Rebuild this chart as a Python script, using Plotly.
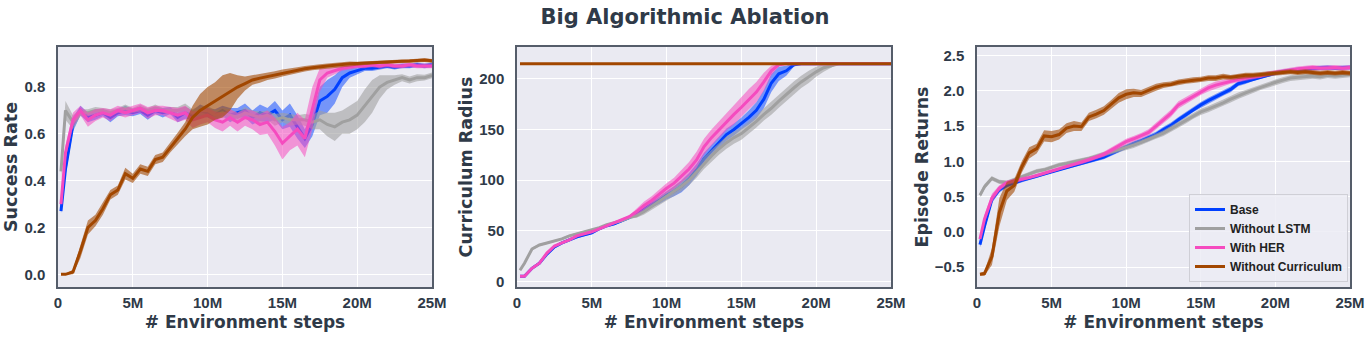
import plotly.graph_objects as go
from plotly.subplots import make_subplots

# environment steps, in millions
STEPS_M = [0.2, 0.5, 1.0, 1.5, 2.0, 2.5, 3.0, 3.5, 4.0, 4.5,
           5.0, 5.5, 6.0, 6.5, 7.0, 7.5, 8.0, 8.5, 9.0, 9.5,
           10.0, 10.5, 11.0, 11.5, 12.0, 12.5, 13.0, 13.5, 14.0, 14.5,
           15.0, 15.5, 16.0, 16.5, 17.0, 17.5, 18.0, 18.5, 19.0, 19.5,
           20.0, 20.5, 21.0, 21.5, 22.0, 22.5, 23.0, 23.5, 24.0, 24.5,
           25.0]

SERIES = ["Base", "Without LSTM", "With HER", "Without Curriculum"]

# --- success rate (mean, spread) ---
SR_BASE = [0.27, 0.45, 0.64, 0.70, 0.67, 0.68, 0.69, 0.67, 0.69, 0.70,
           0.69, 0.70, 0.68, 0.70, 0.69, 0.70, 0.67, 0.69, 0.68, 0.70,
           0.69, 0.68, 0.70, 0.68, 0.69, 0.70, 0.67, 0.69, 0.68, 0.70,
           0.66, 0.68, 0.63, 0.58, 0.64, 0.74, 0.76, 0.79, 0.84, 0.86,
           0.87, 0.88, 0.88, 0.885, 0.89, 0.885, 0.89, 0.89, 0.895, 0.89,
           0.895]
SR_BASE_SD = [0.01, 0.03, 0.03, 0.02, 0.02, 0.02, 0.015, 0.02, 0.015, 0.02,
              0.015, 0.015, 0.02, 0.015, 0.02, 0.015, 0.02, 0.025, 0.02, 0.025,
              0.02, 0.025, 0.02, 0.03, 0.02, 0.03, 0.03, 0.035, 0.03, 0.04,
              0.04, 0.05, 0.05, 0.04, 0.05, 0.06, 0.07, 0.06, 0.04, 0.02,
              0.015, 0.012, 0.012, 0.01, 0.01, 0.01, 0.01, 0.01, 0.01, 0.01,
              0.01]
SR_LSTM = [0.44, 0.70, 0.65, 0.69, 0.69, 0.70, 0.70, 0.69, 0.70, 0.71,
           0.70, 0.71, 0.70, 0.71, 0.70, 0.70, 0.70, 0.71, 0.69, 0.70,
           0.70, 0.68, 0.69, 0.68, 0.67, 0.69, 0.68, 0.67, 0.68, 0.66,
           0.67, 0.66, 0.66, 0.66, 0.65, 0.66, 0.64, 0.63, 0.65, 0.66,
           0.68, 0.72, 0.76, 0.80, 0.82, 0.83, 0.84, 0.83, 0.84, 0.84,
           0.85]
SR_LSTM_SD = [0.03, 0.04, 0.03, 0.015, 0.015, 0.015, 0.01, 0.015, 0.01, 0.015,
              0.01, 0.015, 0.01, 0.015, 0.01, 0.015, 0.015, 0.02, 0.015, 0.02,
              0.02, 0.02, 0.02, 0.025, 0.02, 0.025, 0.02, 0.025, 0.02, 0.025,
              0.02, 0.025, 0.02, 0.025, 0.03, 0.04, 0.05, 0.06, 0.05, 0.06,
              0.06, 0.07, 0.07, 0.05, 0.03, 0.02, 0.015, 0.015, 0.015, 0.012,
              0.012]
SR_HER = [0.30, 0.52, 0.66, 0.70, 0.66, 0.68, 0.69, 0.68, 0.70, 0.69,
          0.70, 0.71, 0.69, 0.70, 0.70, 0.69, 0.68, 0.69, 0.66, 0.67,
          0.68, 0.66, 0.65, 0.67, 0.65, 0.67, 0.66, 0.64, 0.65, 0.61,
          0.56, 0.59, 0.62, 0.58, 0.71, 0.83, 0.86, 0.87, 0.88, 0.885,
          0.89, 0.89, 0.895, 0.89, 0.895, 0.89, 0.89, 0.895, 0.89, 0.89,
          0.89]
SR_HER_SD = [0.01, 0.03, 0.03, 0.02, 0.03, 0.025, 0.02, 0.025, 0.02, 0.02,
             0.02, 0.02, 0.025, 0.02, 0.02, 0.025, 0.03, 0.03, 0.035, 0.03,
             0.03, 0.035, 0.04, 0.035, 0.04, 0.035, 0.04, 0.045, 0.05, 0.06,
             0.07, 0.06, 0.07, 0.08, 0.09, 0.05, 0.02, 0.015, 0.01, 0.01,
             0.01, 0.01, 0.01, 0.01, 0.01, 0.01, 0.01, 0.01, 0.01, 0.01,
             0.01]
SR_CURR = [0.0, 0.0, 0.01, 0.10, 0.20, 0.23, 0.28, 0.34, 0.36, 0.43,
           0.41, 0.45, 0.44, 0.49, 0.50, 0.54, 0.58, 0.62, 0.67, 0.70,
           0.72, 0.74, 0.76, 0.78, 0.80, 0.815, 0.83, 0.838, 0.845, 0.852,
           0.86, 0.866, 0.872, 0.878, 0.882, 0.887, 0.89, 0.893, 0.897, 0.899,
           0.90, 0.902, 0.905, 0.906, 0.908, 0.909, 0.91, 0.911, 0.913, 0.915,
           0.912]
SR_CURR_SD = [0.002, 0.003, 0.01, 0.03, 0.03, 0.025, 0.025, 0.02, 0.02, 0.025,
              0.02, 0.02, 0.02, 0.02, 0.02, 0.02, 0.025, 0.03, 0.05, 0.07,
              0.08, 0.08, 0.09, 0.08, 0.05, 0.03, 0.02, 0.02, 0.015, 0.015,
              0.015, 0.012, 0.012, 0.012, 0.01, 0.01, 0.01, 0.01, 0.01, 0.01,
              0.008, 0.008, 0.008, 0.008, 0.008, 0.008, 0.008, 0.008, 0.008, 0.008,
              0.008]

# --- curriculum radius ---
CR_BASE = [5, 5, 13, 18, 27, 34, 38, 41, 44, 46,
           48, 52, 55, 57, 60, 63, 67, 71, 76, 80,
           85, 89, 94, 101, 110, 121, 129, 137, 145, 150,
           156, 162, 169, 180, 196, 205, 208, 214, 215, 215,
           215, 215, 215, 215, 215, 215, 215, 215, 215, 215,
           215]
CR_BASE_SD = [0.5, 0.5, 1.0, 1.5, 1.5, 1.5, 1.5, 1.5, 1.5, 1.5,
              1.5, 1.5, 1.5, 1.5, 1.5, 1.5, 2.0, 2.5, 3.0, 3.5,
              4.0, 5.0, 6.0, 6.0, 6.0, 6.0, 6.0, 6.0, 6.0, 6.0,
              6.0, 7.0, 8.0, 9.0, 9.0, 7.0, 5.0, 2.0, 0.0, 0.0,
              0.0, 0.0, 0.0, 0.0, 0.0, 0.0, 0.0, 0.0, 0.0, 0.0,
              0.0]
CR_LSTM = [11, 18, 32, 36, 38, 40, 42, 45, 47, 49,
           51, 53, 56, 58, 60, 63, 65, 69, 74, 79,
           84, 89, 94, 100, 108, 117, 124, 131, 137, 142,
           146, 152, 158, 165, 171, 178, 185, 191, 197, 202,
           207, 211, 213, 215, 215, 215, 215, 215, 215, 215,
           215]
CR_LSTM_SD = [1.0, 1.5, 1.5, 1.0, 1.0, 1.0, 1.0, 1.0, 1.0, 1.0,
              1.0, 1.0, 1.0, 1.0, 1.0, 1.0, 2.0, 3.0, 3.5, 4.0,
              4.0, 4.5, 5.0, 5.0, 5.5, 6.0, 6.0, 6.0, 6.0, 6.0,
              6.0, 6.0, 6.0, 6.0, 6.5, 6.5, 6.5, 6.5, 6.0, 6.0,
              5.0, 4.0, 2.0, 0.0, 0.0, 0.0, 0.0, 0.0, 0.0, 0.0,
              0.0]
CR_HER = [5, 5, 13, 18, 28, 35, 38, 41, 45, 47,
          49, 52, 55, 58, 61, 64, 69, 75, 80, 86,
          92, 97, 104, 111, 120, 133, 142, 150, 158, 165,
          172, 180, 187, 197, 208, 214, 215, 215, 215, 215,
          215, 215, 215, 215, 215, 215, 215, 215, 215, 215,
          215]
CR_HER_SD = [0.5, 0.5, 1.0, 1.0, 1.0, 1.0, 1.0, 1.0, 1.0, 1.0,
             1.0, 1.0, 1.0, 1.0, 1.0, 1.0, 3.0, 4.0, 4.0, 4.5,
             5.0, 5.5, 6.0, 7.0, 8.0, 8.0, 8.0, 8.0, 9.0, 10.0,
             10.0, 10.0, 10.0, 9.0, 5.0, 1.5, 0.0, 0.0, 0.0, 0.0,
             0.0, 0.0, 0.0, 0.0, 0.0, 0.0, 0.0, 0.0, 0.0, 0.0,
             0.0]
CR_CURR = [215, 215, 215, 215, 215, 215, 215, 215, 215, 215,
           215, 215, 215, 215, 215, 215, 215, 215, 215, 215,
           215, 215, 215, 215, 215, 215, 215, 215, 215, 215,
           215, 215, 215, 215, 215, 215, 215, 215, 215, 215,
           215, 215, 215, 215, 215, 215, 215, 215, 215, 215,
           215]
CR_CURR_SD = [0.0] * 51

# --- episode returns ---
ER_BASE = [-0.18, 0.08, 0.46, 0.60, 0.66, 0.70, 0.73, 0.76, 0.79, 0.82,
           0.86, 0.89, 0.92, 0.95, 0.97, 1.00, 1.03, 1.06, 1.11, 1.16,
           1.21, 1.25, 1.29, 1.33, 1.38, 1.45, 1.51, 1.59, 1.66, 1.74,
           1.80, 1.86, 1.91, 1.97, 2.02, 2.10, 2.13, 2.17, 2.20, 2.23,
           2.25, 2.27, 2.29, 2.30, 2.31, 2.32, 2.32, 2.33, 2.32, 2.33,
           2.33]
ER_BASE_SD = [0.04, 0.05, 0.05, 0.04, 0.03, 0.03, 0.025, 0.025, 0.025, 0.025,
              0.025, 0.025, 0.025, 0.025, 0.025, 0.025, 0.03, 0.03, 0.035, 0.035,
              0.035, 0.035, 0.035, 0.04, 0.04, 0.04, 0.04, 0.04, 0.04, 0.04,
              0.04, 0.04, 0.04, 0.04, 0.04, 0.035, 0.035, 0.03, 0.03, 0.03,
              0.03, 0.03, 0.03, 0.03, 0.03, 0.03, 0.03, 0.03, 0.03, 0.03,
              0.03]
ER_LSTM = [0.52, 0.64, 0.76, 0.71, 0.70, 0.74, 0.78, 0.83, 0.86, 0.88,
           0.92, 0.95, 0.97, 0.99, 1.02, 1.04, 1.07, 1.10, 1.13, 1.16,
           1.20, 1.23, 1.27, 1.31, 1.36, 1.40, 1.46, 1.52, 1.58, 1.65,
           1.70, 1.74, 1.78, 1.83, 1.88, 1.93, 1.97, 2.01, 2.05, 2.09,
           2.12, 2.15, 2.18, 2.19, 2.20, 2.21, 2.20, 2.22, 2.21, 2.22,
           2.23]
ER_LSTM_SD = [0.03, 0.04, 0.03, 0.03, 0.03, 0.03, 0.03, 0.03, 0.03, 0.03,
              0.03, 0.03, 0.03, 0.03, 0.03, 0.03, 0.035, 0.035, 0.04, 0.04,
              0.04, 0.04, 0.04, 0.04, 0.04, 0.04, 0.045, 0.045, 0.045, 0.045,
              0.045, 0.045, 0.045, 0.045, 0.045, 0.045, 0.04, 0.04, 0.04, 0.04,
              0.04, 0.04, 0.04, 0.04, 0.04, 0.04, 0.04, 0.04, 0.04, 0.04,
              0.04]
ER_HER = [-0.10, 0.18, 0.48, 0.62, 0.70, 0.72, 0.74, 0.77, 0.80, 0.83,
          0.86, 0.90, 0.93, 0.96, 0.99, 1.02, 1.06, 1.10, 1.16, 1.22,
          1.28, 1.32, 1.36, 1.41, 1.50, 1.59, 1.68, 1.80, 1.86, 1.93,
          1.99, 2.04, 2.08, 2.11, 2.14, 2.16, 2.18, 2.19, 2.21, 2.24,
          2.26, 2.28, 2.30, 2.31, 2.32, 2.33, 2.32, 2.33, 2.33, 2.32,
          2.33]
ER_HER_SD = [0.03, 0.06, 0.06, 0.04, 0.03, 0.03, 0.025, 0.025, 0.025, 0.025,
             0.025, 0.025, 0.025, 0.025, 0.03, 0.03, 0.03, 0.035, 0.035, 0.04,
             0.04, 0.04, 0.04, 0.045, 0.05, 0.05, 0.05, 0.05, 0.05, 0.05,
             0.05, 0.05, 0.05, 0.045, 0.04, 0.04, 0.035, 0.035, 0.035, 0.035,
             0.035, 0.035, 0.035, 0.035, 0.035, 0.035, 0.035, 0.035, 0.035, 0.035,
             0.035]
ER_CURR = [-0.60, -0.59, -0.35, 0.28, 0.58, 0.66, 0.92, 1.12, 1.18, 1.36,
           1.35, 1.38, 1.47, 1.50, 1.49, 1.63, 1.67, 1.72, 1.81, 1.90,
           1.95, 1.97, 1.96, 2.01, 2.05, 2.08, 2.09, 2.12, 2.14, 2.15,
           2.16, 2.18, 2.18, 2.20, 2.19, 2.21, 2.22, 2.22, 2.23, 2.24,
           2.25, 2.26, 2.27, 2.26, 2.27, 2.26, 2.25, 2.26, 2.25, 2.26,
           2.25]
ER_CURR_SD = [0.02, 0.03, 0.12, 0.20, 0.13, 0.09, 0.08, 0.08, 0.07, 0.08,
              0.08, 0.07, 0.07, 0.07, 0.06, 0.06, 0.06, 0.06, 0.06, 0.07,
              0.07, 0.06, 0.05, 0.05, 0.05, 0.04, 0.04, 0.04, 0.04, 0.04,
              0.04, 0.04, 0.04, 0.04, 0.035, 0.035, 0.035, 0.035, 0.035, 0.035,
              0.035, 0.035, 0.035, 0.035, 0.035, 0.035, 0.035, 0.035, 0.035, 0.035,
              0.035]

X_TICKS = [0, 5, 10, 15, 20, 25]
X_TICK_TEXT = ["0", "5M", "10M", "15M", "20M", "25M"]

COLORS = ["#0040ff", "#a0a0a0", "#f54bbf", "#a24700"]
BAND_ALPHA = [0.5, 0.6, 0.55, 0.6]

TEXT = "#2f3a48"
TITLE_FONT = dict(family="DejaVu Sans", size=17, color=TEXT, weight="bold")
TICK_FONT = dict(family="Liberation Sans, Arial", size=15, color=TEXT, weight="bold")


def rgba(hex_color, alpha):
    h = hex_color.lstrip("#")
    r, g, b = int(h[0:2], 16), int(h[2:4], 16), int(h[4:6], 16)
    return f"rgba({r},{g},{b},{alpha})"


def add_series(fig, col, mean, sd, idx, legend):
    hi = [m + s for m, s in zip(mean, sd)]
    lo = [m - s for m, s in zip(mean, sd)]
    fig.add_trace(go.Scatter(x=STEPS_M + STEPS_M[::-1], y=hi + lo[::-1],
                             fill="toself", fillcolor=rgba(COLORS[idx], BAND_ALPHA[idx]),
                             line=dict(width=0), hoverinfo="skip", showlegend=False),
                  row=1, col=col)
    fig.add_trace(go.Scatter(x=STEPS_M, y=mean, mode="lines", name=SERIES[idx],
                             line=dict(color=COLORS[idx], width=3),
                             showlegend=legend, legendrank=idx),
                  row=1, col=col)


panels = [
    ("Success Rate", [(SR_BASE, SR_BASE_SD), (SR_LSTM, SR_LSTM_SD),
                      (SR_HER, SR_HER_SD), (SR_CURR, SR_CURR_SD)],
     [-0.054, 0.971], [0, 0.2, 0.4, 0.6, 0.8], ".1f"),
    ("Curriculum Radius", [(CR_BASE, CR_BASE_SD), (CR_LSTM, CR_LSTM_SD),
                           (CR_HER, CR_HER_SD), (CR_CURR, CR_CURR_SD)],
     [-5.5, 231.5], [0, 50, 100, 150, 200], "d"),
    ("Episode Returns", [(ER_BASE, ER_BASE_SD), (ER_LSTM, ER_LSTM_SD),
                         (ER_HER, ER_HER_SD), (ER_CURR, ER_CURR_SD)],
     [-0.78, 2.62], [-0.5, 0, 0.5, 1.0, 1.5, 2.0, 2.5], ".1f"),
]

W, H = 1370, 340
x_px = [(58, 432), (517, 891), (977, 1350)]
y_dom = [1 - 287 / H, 1 - 47 / H]

fig = make_subplots(rows=1, cols=3)
for col, (ytitle, data, yrange, yticks, fmt) in enumerate(panels, start=1):
    for idx, (mean, sd) in enumerate(data):
        add_series(fig, col, mean, sd, idx, legend=(col == 3))
    axis_common = dict(showline=True, mirror=True, linecolor="#555d6a", linewidth=1.5,
                       showgrid=True, gridcolor="white", gridwidth=1.3, zeroline=False,
                       ticks="", tickfont=TICK_FONT, automargin=False)
    fig.update_xaxes(range=[0, 25], tickvals=X_TICKS, ticktext=X_TICK_TEXT,
                     domain=[x_px[col - 1][0] / W, x_px[col - 1][1] / W],
                     title=dict(text="# Environment steps", font=TITLE_FONT, standoff=6),
                     ticklabelstandoff=1, row=1, col=col, **axis_common)
    fig.update_yaxes(range=yrange, tickvals=yticks, tickformat=fmt, domain=y_dom,
                     title=dict(text=ytitle, font=dict(TITLE_FONT, size=17.5), standoff=2),
                     ticklabelstandoff=8, row=1, col=col, **axis_common)

fig.update_layout(
    width=W, height=H,
    margin=dict(l=0, r=0, t=0, b=0),
    paper_bgcolor="white", plot_bgcolor="#eaeaf2",
    title=dict(text="Big Algorithmic Ablation", x=0.5, xanchor="center",
               y=1 - 17 / H, yanchor="middle",
               font=dict(family="DejaVu Sans", size=21, color=TEXT, weight="bold")),
    legend=dict(x=1189 / W, y=1 - 282 / H, xanchor="left", yanchor="bottom",
                bgcolor="rgba(236,236,244,0.85)", bordercolor="#cfcfd6", borderwidth=1,
                font=dict(family="Liberation Sans, Arial", size=12, color="#222222",
                          weight="bold"),
                tracegroupgap=0),
    showlegend=True,
)

# the page body has a default 8px margin; drop it so the figure fills the window
fig.write_html("out.html", config={"displayModeBar": False},
               post_script="document.body.style.margin = '0';")
